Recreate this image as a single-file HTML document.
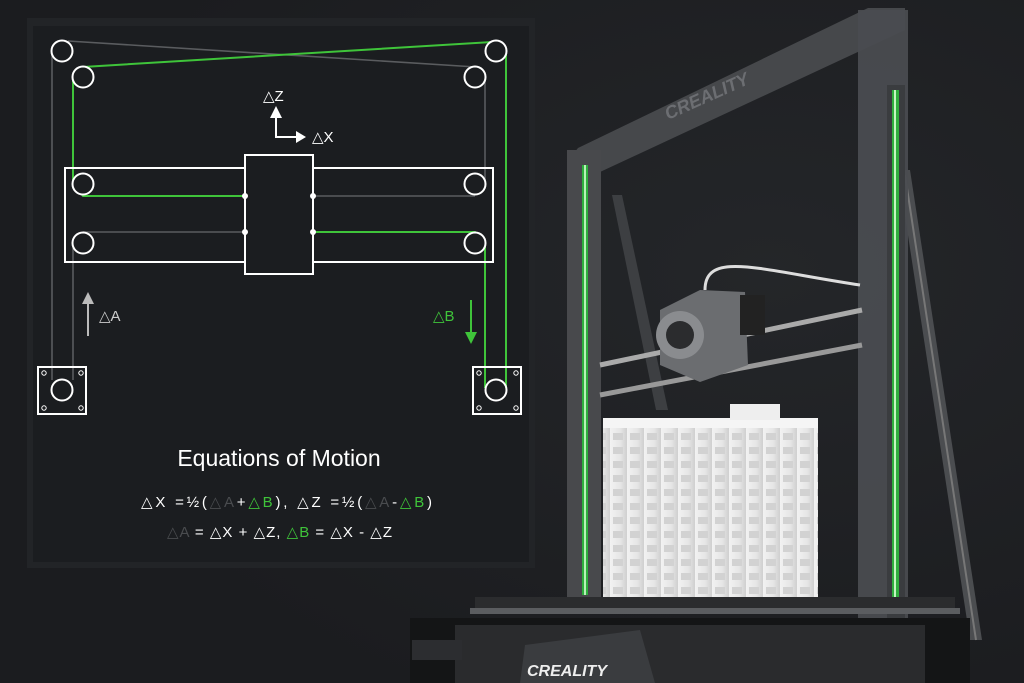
<!DOCTYPE html>
<html><head><meta charset="utf-8"><style>
html,body{margin:0;padding:0;background:#1e2023;}
body{width:1024px;height:683px;overflow:hidden;position:relative;font-family:"Liberation Sans",sans-serif;}
svg{position:absolute;left:0;top:0}
</style></head><body>
<svg width="1024" height="683" viewBox="0 0 1024 683">
<defs>
<radialGradient id="bg" cx="75%" cy="40%" r="70%"><stop offset="0" stop-color="#242629"/><stop offset="1" stop-color="#1b1c1f"/></radialGradient>
<linearGradient id="bld" x1="0" x2="1"><stop offset="0" stop-color="#f2f2f2"/><stop offset="0.6" stop-color="#e6e6e6"/><stop offset="1" stop-color="#cfcfcf"/></linearGradient>
<pattern id="win" x="610" y="430" width="17" height="14" patternUnits="userSpaceOnUse"><rect width="17" height="14" fill="url(#bld)"/><rect x="3" y="3" width="10" height="7" fill="#d2d2d2"/></pattern>
</defs>
<rect width="1024" height="683" fill="url(#bg)"/>
<g>
<polygon points="898,170 910,170 982,640 970,640" fill="#4b4d50"/>
<line x1="905" y1="175" x2="976" y2="640" stroke="#777" stroke-width="2"/>
<polygon points="612,195 622,195 668,410 656,410" fill="#3d3f42"/>
<polygon points="567,162 578,148 868,8 905,8 905,30 600,172" fill="#4a4c50" opacity="0.9"/>
<text x="668" y="120" transform="rotate(-24 668 120)" font-size="18" fill="#6c6e72" font-weight="bold" font-style="italic">CREALITY</text>
<rect x="567" y="150" width="34" height="460" fill="#48494c"/>
<rect x="582" y="165" width="6" height="430" fill="#2fae3e"/>
<rect x="584" y="165" width="2" height="430" fill="#b9f0b8"/>
<rect x="858" y="10" width="50" height="673" fill="#4a4c50" opacity="0.95"/>
<rect x="887" y="85" width="18" height="598" fill="#3a3c3f"/>
<rect x="892" y="90" width="7" height="510" fill="#2fae3e"/>
<rect x="894" y="90" width="2" height="510" fill="#c5f5c2"/>
<line x1="600" y1="365" x2="862" y2="310" stroke="#aaa" stroke-width="5"/>
<line x1="600" y1="395" x2="862" y2="345" stroke="#999" stroke-width="5"/>
<path d="M705,290 C705,250 760,270 860,285" stroke="#ddd" stroke-width="3" fill="none"/>
<path d="M660,310 L700,290 L745,292 L748,365 L700,382 L660,365 Z" fill="#6b6d70"/>
<circle cx="680" cy="335" r="24" fill="#8a8c8f"/>
<circle cx="680" cy="335" r="14" fill="#2b2c2e"/>
<rect x="740" y="295" width="25" height="40" fill="#222"/>
<rect x="603" y="420" width="215" height="178" fill="url(#win)"/>
<rect x="603" y="418" width="215" height="10" fill="#f5f5f5"/>
<rect x="730" y="404" width="50" height="16" fill="#eee"/>
<rect x="475" y="597" width="480" height="14" fill="#2b2c2e"/>
<rect x="470" y="608" width="490" height="6" fill="#5b5d60"/>
<rect x="410" y="618" width="560" height="65" fill="#141516"/>
<rect x="455" y="625" width="470" height="58" fill="#2a2b2d"/>
<polygon points="525,645 640,630 655,683 520,683" fill="#3a3c3f"/>
<text x="527" y="676" font-size="16" fill="#eee" font-weight="bold" font-style="italic">CREALITY</text>
<rect x="412" y="640" width="50" height="20" fill="#2c2d30"/>
</g>
<rect x="27" y="18" width="508" height="550" fill="#222427"/>
<rect x="33" y="26" width="496" height="536" fill="#1b1d20"/>
<g fill="none" stroke-width="1.6">
<line x1="68" y1="41" x2="476" y2="67" stroke="#5a5c5f"/>
<line x1="52" y1="51" x2="52" y2="380" stroke="#5a5c5f"/>
<line x1="73" y1="248" x2="73" y2="380" stroke="#5a5c5f"/>
<line x1="83" y1="232" x2="245" y2="232" stroke="#5a5c5f"/>
<line x1="313" y1="196" x2="475" y2="196" stroke="#5a5c5f"/>
<line x1="485" y1="77" x2="485" y2="184" stroke="#5a5c5f"/>
<polyline points="83,67 492,42 506,51 506,388" stroke="#3fc43a" stroke-width="2"/>
<polyline points="78,70 73,77 73,184 83,196 245,196" stroke="#3fc43a" stroke-width="2"/>
<polyline points="313,232 475,232 485,243 485,388" stroke="#3fc43a" stroke-width="2"/>
</g>
<g fill="none" stroke="#fff" stroke-width="2">
<rect x="65" y="168" width="428" height="94" fill="none"/>
<rect x="245" y="155" width="68" height="119" fill="#1b1d20"/>
<circle cx="62" cy="51" r="10.5" fill="#1b1d20"/>
<circle cx="83" cy="77" r="10.5" fill="#1b1d20"/>
<circle cx="496" cy="51" r="10.5" fill="#1b1d20"/>
<circle cx="475" cy="77" r="10.5" fill="#1b1d20"/>
<circle cx="83" cy="184" r="10.5" fill="#1b1d20"/>
<circle cx="475" cy="184" r="10.5" fill="#1b1d20"/>
<circle cx="83" cy="243" r="10.5" fill="#1b1d20"/>
<circle cx="475" cy="243" r="10.5" fill="#1b1d20"/>
<rect x="38" y="367" width="48" height="47"/>
<rect x="473" y="367" width="48" height="47"/>
<circle cx="62" cy="390" r="10.5"/>
<circle cx="496" cy="390" r="10.5"/>
<g stroke-width="1"><circle cx="44" cy="373" r="2.2"/><circle cx="81" cy="373" r="2.2"/><circle cx="44" cy="408" r="2.2"/><circle cx="81" cy="408" r="2.2"/>
<circle cx="479" cy="373" r="2.2"/><circle cx="516" cy="373" r="2.2"/><circle cx="479" cy="408" r="2.2"/><circle cx="516" cy="408" r="2.2"/></g>
</g>
<g fill="#fff"><circle cx="245" cy="196" r="3"/><circle cx="313" cy="196" r="3"/><circle cx="245" cy="232" r="3"/><circle cx="313" cy="232" r="3"/></g>
<polyline points="276,118 276,137 298,137" fill="none" stroke="#fff" stroke-width="2"/>
<polygon points="276,106 270,118 282,118" fill="#fff"/>
<polygon points="306,137 296,131 296,143" fill="#fff"/>
<text x="263" y="101" font-size="15" fill="#fff">△Z</text>
<text x="312" y="142" font-size="15" fill="#fff">△X</text>
<line x1="88" y1="302" x2="88" y2="336" stroke="#bbb" stroke-width="2"/>
<polygon points="88,292 82,304 94,304" fill="#bbb"/>
<text x="99" y="321" font-size="15" fill="#ccc">△A</text>
<line x1="471" y1="300" x2="471" y2="334" stroke="#3fc43a" stroke-width="2"/>
<polygon points="471,344 465,332 477,332" fill="#3fc43a"/>
<text x="433" y="321" font-size="15" fill="#3fc43a">△B</text>
<text x="279" y="466" font-size="23" fill="#fff" text-anchor="middle">Equations of Motion</text>
<text x="141" y="507" font-size="15" fill="#fff" textLength="291" lengthAdjust="spacing">△X =½(<tspan fill="#4a4c4f">△A</tspan>+<tspan fill="#3fc43a">△B</tspan>),   △Z =½(<tspan fill="#4a4c4f">△A</tspan>-<tspan fill="#3fc43a">△B</tspan>)</text>
<text x="167" y="537" font-size="15" fill="#fff" textLength="225" lengthAdjust="spacing"><tspan fill="#4a4c4f">△A</tspan> = △X + △Z,   <tspan fill="#3fc43a">△B</tspan> = △X - △Z</text>
</svg>
</body></html>
